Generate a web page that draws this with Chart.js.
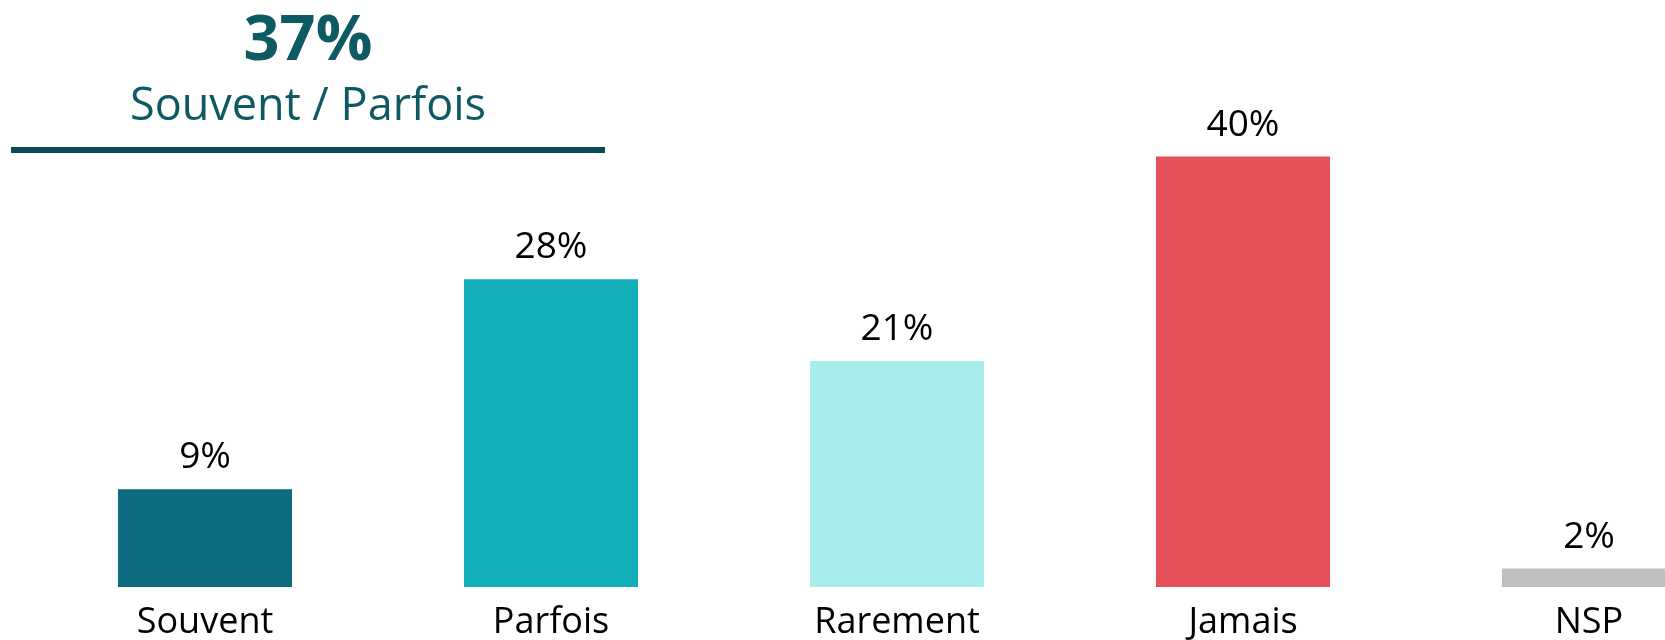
<!DOCTYPE html>
<html lang="fr">
<head>
<meta charset="utf-8">
<title>Fréquence</title>
<script src="https://cdn.jsdelivr.net/npm/chart.js@4/dist/chart.umd.min.js"></script>
<style>
  html, body { margin: 0; padding: 0; background: #fff; overflow: hidden; }
  body { width: 1665px; height: 640px; position: relative; font-family: "Open Sans", "Noto Sans", sans-serif; }
  #wrap { position: absolute; left: 0; top: 0; width: 1762px; height: 640px; }
  #head { position: absolute; left: 11px; top: 0; width: 594px; height: 153px; border-bottom: 6px solid #0B4B58; box-sizing: border-box; text-align: center; color: #0E5A62; }
  #head .big { position: absolute; left: 0; right: 0; top: 4px; font-size: 63px; font-weight: 700; line-height: 63px; }
  #head .sub { position: absolute; left: 0; right: 0; top: 80px; font-size: 45px; line-height: 45px; }
</style>
</head>
<body>
<div id="wrap"><canvas id="chart"></canvas></div>
<div id="head"><div class="big" id="head-total"></div><div class="sub" id="head-label"></div></div>
<script>
  // ── Data ──────────────────────────────────────────────────────────
  const categories = ['Souvent', 'Parfois', 'Rarement', 'Jamais', 'NSP'];
  const values     = [9.0, 28.3, 20.8, 39.6, 1.7];
  const barColors  = ['#0E6C80', '#13AFB8', '#A6EDEC', '#E55059', '#BFBFBF'];
  const headGroup  = [0, 1];   // Souvent + Parfois

  const TXT_FONT = '"Open Sans", "Noto Sans", sans-serif';

  // header (sum of the first two answers)
  const total = headGroup.reduce((s, i) => s + values[i], 0);
  document.getElementById('head-total').textContent = Math.round(total) + '%';
  document.getElementById('head-label').textContent = headGroup.map(i => categories[i]).join(' / ');

  // value labels above bars
  const valueLabels = {
    id: 'valueLabels',
    afterDatasetsDraw(chart) {
      const ctx = chart.ctx;
      const meta = chart.getDatasetMeta(0);
      ctx.save();
      ctx.font = '37px ' + TXT_FONT;
      ctx.fillStyle = '#000';
      ctx.textAlign = 'center';
      ctx.textBaseline = 'alphabetic';
      meta.data.forEach((bar, i) => {
        ctx.fillText(Math.round(values[i]) + '%', bar.x, bar.y - 21);
      });
      ctx.restore();
    }
  };

  new Chart(document.getElementById('chart'), {
    type: 'bar',
    data: {
      labels: categories,
      datasets: [{
        data: values,
        backgroundColor: barColors,
        borderWidth: 0,
        barPercentage: 0.503,
        categoryPercentage: 1
      }]
    },
    options: {
      animation: false,
      responsive: true,
      maintainAspectRatio: false,
      layout: { padding: { left: 32, right: 0, top: 0, bottom: 0 } },
      scales: {
        x: {
          grid: { display: false, drawTicks: false },
          border: { display: false },
          ticks: { color: '#000', font: { family: TXT_FONT, size: 36 }, padding: 14, maxRotation: 0 },
          afterFit: s => { s.height = 53; }
        },
        y: { display: false, min: 0, max: 54 }
      },
      plugins: { legend: { display: false }, tooltip: { enabled: false } }
    },
    plugins: [valueLabels]
  });
</script>
</body>
</html>
